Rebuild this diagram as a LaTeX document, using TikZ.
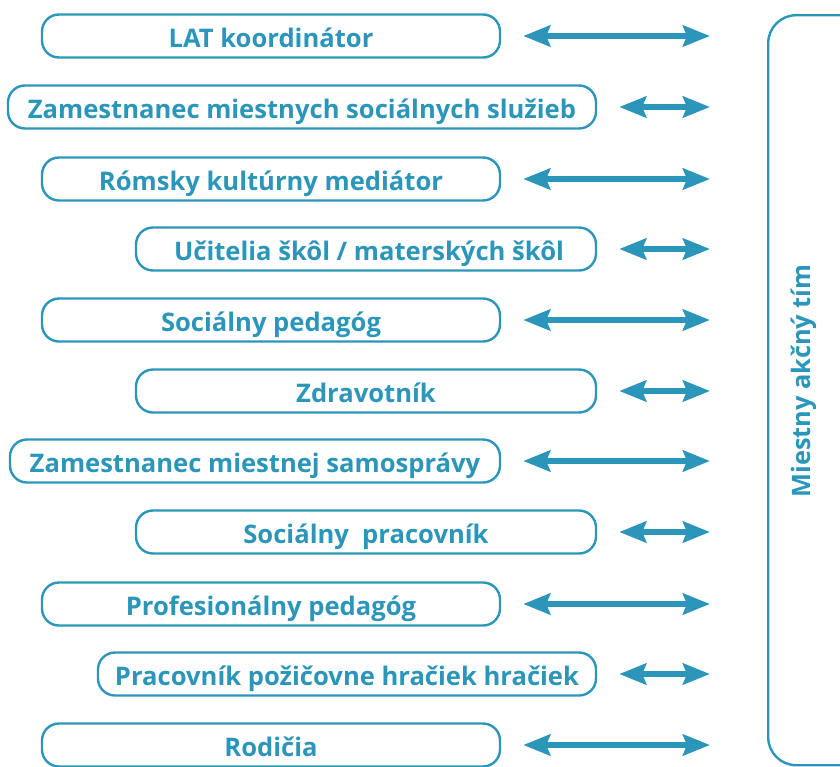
\documentclass[tikz,border=0pt]{standalone}
\usepackage{fontspec}
\setmainfont{Open Sans}
\usetikzlibrary{arrows.meta,calc}
\definecolor{mblue}{HTML}{2B96BA}
\begin{document}
\begin{tikzpicture}[x=1pt,y=-1pt,
  box/.style={draw=mblue, line width=2.4pt, rounded corners=17pt, minimum height=43pt,
    inner sep=0pt, text height=23pt, text depth=0pt, text=mblue,
    font=\bfseries\fontsize{25.6}{30}\selectfont},
  arr/.style={draw=mblue, line width=6pt,
    {Stealth[length=27pt,width=21pt,inset=4pt]}-{Stealth[length=27pt,width=21pt,inset=4pt]}}]
\useasboundingbox (0,0) rectangle (840,766);
% right team box (partly outside the picture)
\begin{scope}
  \clip (0,0) rectangle (840,766);
  \node[draw=mblue, line width=2.4pt, rounded corners=28pt, minimum width=140pt,
    minimum height=750pt, inner sep=0pt, anchor=north west] (team) at (767,14) {};
\end{scope}
\node[text=mblue, font=\bfseries\fontsize{25.4}{30}\selectfont, rotate=90] (teamlabel) at (804,381) {Miestny akčný tím};
% boxes
\node[box, minimum width=458pt] (b1) at (271,36) {LAT koordinátor};
\node[box, minimum width=588pt] (b2) at (302,107) {Zamestnanec miestnych sociálnych služieb};
\node[box, minimum width=458pt] (b3) at (271,179) {Rómsky kultúrny mediátor};
\node[box, minimum width=460pt] (b4) at (366,249) {\hspace{6pt}Učitelia škôl / materských škôl};
\node[box, minimum width=458pt] (b5) at (271,320) {Sociálny pedagóg};
\node[box, minimum width=460pt] (b6) at (366,391) {Zdravotník};
\node[box, minimum width=490pt] (b7) at (255,461) {Zamestnanec miestnej samosprávy};
\node[box, minimum width=460pt] (b8) at (366,532) {Sociálny\ \ pracovník};
\node[box, minimum width=458pt] (b9) at (271,604) {Profesionálny pedagóg\hspace{12pt}};
\node[box, minimum width=498pt] (b10) at (347,674) {Pracovník požičovne hračiek hračiek};
\node[box, minimum width=458pt] (b11) at (271,745) {Rodičia};
% arrows
\foreach \b in {b1,b2,b3,b4,b5,b6,b7,b8,b9,b10,b11}{
  \draw[arr] ([xshift=22pt]\b.east) -- ($(\b.east -| team.west)+(-57pt,0)$);
}
\end{tikzpicture}
\end{document}
